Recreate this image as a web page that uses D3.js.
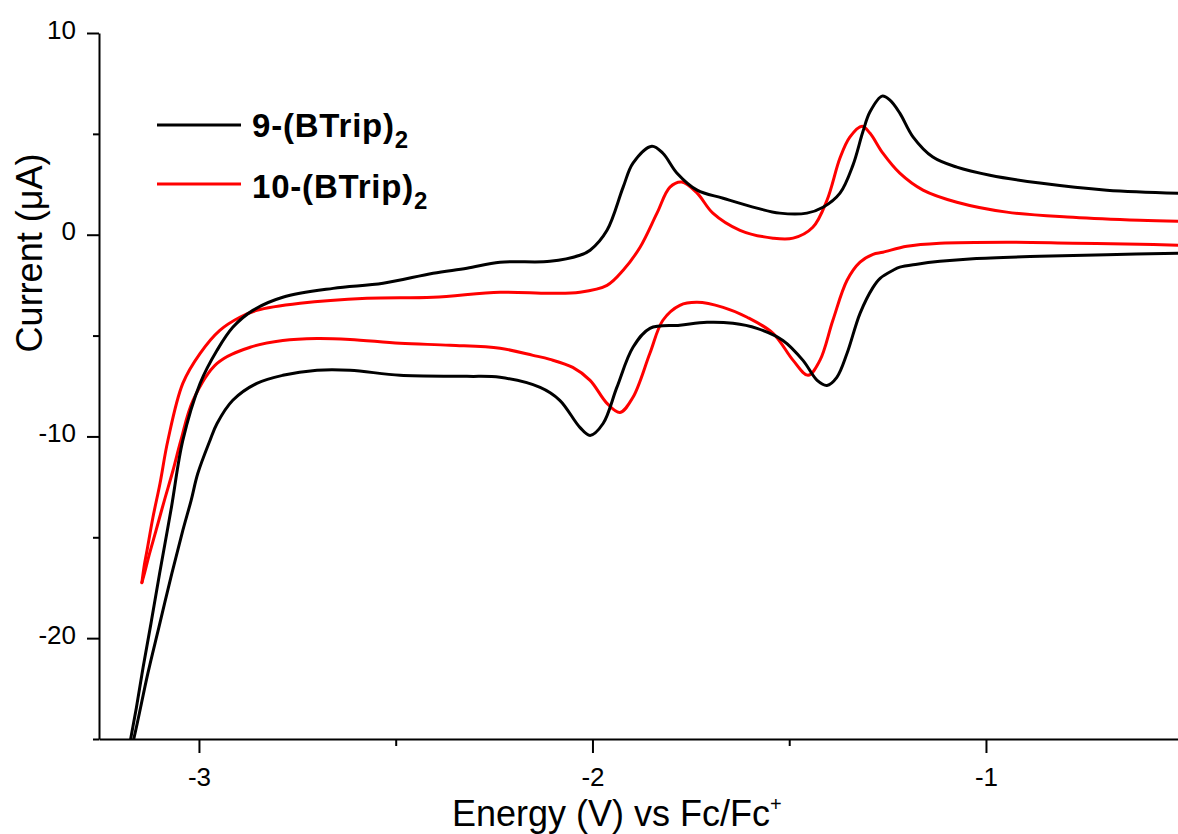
<!DOCTYPE html>
<html>
<head>
<meta charset="utf-8">
<script src="https://cdn.jsdelivr.net/npm/d3@7"></script>
<style>
  body { margin: 0; background: #fff; }
  svg { display: block; }
  text { font-family: "Liberation Sans", Arial, Helvetica, sans-serif; fill: #000; }
</style>
</head>
<body>
<svg id="chart" width="1178" height="834"></svg>
<script>
// Cyclic voltammograms: potential (V vs Fc/Fc+) and current (µA).
// Each scan is stored as the cathodic sweep (toward negative potential)
// and the anodic return sweep; both meet at the switching potential.

const seriesLabels = ["9-(BTrip)", "10-(BTrip)"];
const seriesColors = ["#000000", "#ff0000"];

const blackCathodic = [
  [-0.512, -0.92], [-0.693, -0.99], [-0.863, -1.07], [-1.033, -1.19], [-1.117, -1.32],
  [-1.175, -1.46], [-1.219, -1.61], [-1.236, -1.76], [-1.269, -2.16], [-1.287, -2.61],
  [-1.320, -3.90], [-1.353, -5.88], [-1.379, -7.07], [-1.404, -7.47], [-1.429, -7.22],
  [-1.465, -6.23], [-1.516, -5.24], [-1.582, -4.64], [-1.643, -4.39], [-1.709, -4.34],
  [-1.778, -4.49], [-1.854, -4.64], [-1.897, -5.58], [-1.938, -7.57], [-1.973, -9.36],
  [-2.006, -9.95], [-2.032, -9.55], [-2.083, -8.21], [-2.133, -7.57], [-2.235, -7.07],
  [-2.319, -7.02], [-2.489, -6.97], [-2.616, -6.72], [-2.700, -6.72], [-2.787, -6.97],
  [-2.853, -7.37], [-2.914, -8.21], [-2.954, -9.36], [-2.972, -10.20], [-3.003, -11.84],
  [-3.020, -13.18], [-3.041, -14.66], [-3.069, -16.80], [-3.102, -19.48], [-3.130, -21.76],
  [-3.165, -24.94], [-3.187, -26.60]
];

const blackAnodic = [
  [-3.187, -26.60], [-3.173, -24.94], [-3.159, -23.45], [-3.142, -21.46], [-3.122, -19.28],
  [-3.100, -16.80], [-3.070, -13.52], [-3.041, -10.20], [-2.997, -7.37], [-2.954, -5.73],
  [-2.914, -4.59], [-2.863, -3.75], [-2.787, -3.10], [-2.659, -2.66], [-2.532, -2.41],
  [-2.405, -1.91], [-2.319, -1.66], [-2.235, -1.36], [-2.108, -1.32], [-2.032, -1.02],
  [-2.006, -0.77], [-1.963, 0.22], [-1.922, 2.36], [-1.897, 3.55], [-1.849, 4.39],
  [-1.821, 4.04], [-1.785, 3.05], [-1.734, 2.21], [-1.668, 1.81], [-1.582, 1.32],
  [-1.524, 1.07], [-1.455, 1.07], [-1.414, 1.36], [-1.371, 2.06], [-1.338, 3.45],
  [-1.313, 5.09], [-1.295, 6.08], [-1.264, 6.87], [-1.244, 6.67], [-1.219, 6.03],
  [-1.185, 4.84], [-1.135, 3.85], [-1.074, 3.35], [-0.990, 2.95], [-0.863, 2.56],
  [-0.693, 2.21], [-0.512, 2.06]
];

const redCathodic = [
  [-0.512, -0.52], [-0.609, -0.47], [-0.779, -0.42], [-0.947, -0.37], [-1.117, -0.42],
  [-1.201, -0.57], [-1.262, -0.87], [-1.287, -0.97], [-1.320, -1.36], [-1.353, -2.26],
  [-1.389, -4.24], [-1.422, -6.23], [-1.452, -6.97], [-1.490, -6.23], [-1.541, -4.89],
  [-1.607, -4.09], [-1.668, -3.60], [-1.734, -3.35], [-1.778, -3.50], [-1.821, -4.24],
  [-1.854, -5.88], [-1.897, -8.06], [-1.930, -8.81], [-1.963, -8.36], [-2.006, -7.22],
  [-2.050, -6.58], [-2.108, -6.18], [-2.151, -5.98], [-2.235, -5.63], [-2.362, -5.48],
  [-2.489, -5.38], [-2.616, -5.19], [-2.700, -5.14], [-2.787, -5.24], [-2.870, -5.58],
  [-2.954, -6.38], [-3.015, -8.21], [-3.046, -10.20], [-3.066, -11.69], [-3.088, -13.18],
  [-3.109, -14.66], [-3.127, -15.91], [-3.138, -16.75], [-3.145, -17.25]
];

const redAnodic = [
  [-3.145, -17.25], [-3.139, -16.40], [-3.132, -15.66], [-3.117, -14.02], [-3.099, -12.33],
  [-3.079, -10.20], [-3.041, -7.37], [-2.997, -5.88], [-2.947, -4.74], [-2.896, -4.09],
  [-2.853, -3.75], [-2.743, -3.40], [-2.573, -3.15], [-2.405, -3.10], [-2.235, -2.85],
  [-2.108, -2.90], [-2.032, -2.85], [-1.963, -2.51], [-1.922, -1.76], [-1.879, -0.62],
  [-1.836, 1.07], [-1.803, 2.36], [-1.773, 2.61], [-1.734, 2.06], [-1.694, 1.07],
  [-1.625, 0.22], [-1.541, -0.17], [-1.490, -0.17], [-1.440, 0.37], [-1.404, 1.71],
  [-1.371, 3.80], [-1.346, 4.84], [-1.315, 5.38], [-1.295, 5.04], [-1.262, 4.04],
  [-1.219, 3.05], [-1.160, 2.21], [-1.074, 1.61], [-0.947, 1.12], [-0.779, 0.87],
  [-0.609, 0.72], [-0.512, 0.67]
];

const xMajorTicks = [-3, -2, -1];
const xMinorTicks = [-2.5, -1.5];
const yMajorTicks = [10, 0, -10, -20];
const yMinorTicks = [5, -5, -15, -25];

const xTitle = "Energy (V) vs Fc/Fc";
const yTitle = "Current (\u03BCA)";

// ---- layout ----
const svg = d3.select("#chart");
const plot = { left: 99, right: 1178, top: 33, bottom: 739 };

const x = d3.scaleLinear().domain([-3.254, -0.512]).range([plot.left, plot.right]);
const y = d3.scaleLinear().domain([-25, 10]).range([plot.bottom, plot.top]);

svg.append("defs").append("clipPath").attr("id", "plot-clip")
  .append("rect")
  .attr("x", plot.left).attr("y", plot.top)
  .attr("width", plot.right - plot.left).attr("height", plot.bottom - plot.top);

// ---- curves ----
const line = d3.line()
  .x(d => x(d[0]))
  .y(d => y(d[1]))
  .curve(d3.curveCatmullRom.alpha(0.5));

const scans = [
  [blackCathodic, blackAnodic],
  [redCathodic, redAnodic]
];

const curves = svg.append("g").attr("clip-path", "url(#plot-clip)");
// red scan first, black drawn on top where they overlap
[1, 0].forEach(i => {
  scans[i].forEach(branch => {
    curves.append("path")
      .datum(branch)
      .attr("d", line)
      .attr("fill", "none")
      .attr("stroke", seriesColors[i])
      .attr("stroke-width", 3)
      .attr("stroke-linejoin", "round")
      .attr("stroke-linecap", "round");
  });
});

// ---- axes ----
const fmt = d => String(d);

const xAxisG = svg.append("g").attr("transform", `translate(0,${plot.bottom})`);
xAxisG.call(d3.axisBottom(x).tickValues(xMajorTicks).tickFormat(fmt)
  .tickSize(14).tickPadding(15).tickSizeOuter(0));
xAxisG.append("g").call(d3.axisBottom(x).tickValues(xMinorTicks).tickFormat("")
  .tickSize(7).tickSizeOuter(0))
  .select(".domain").remove();

const yAxisG = svg.append("g").attr("transform", `translate(${plot.left},0)`);
yAxisG.call(d3.axisLeft(y).tickValues(yMajorTicks).tickFormat(fmt)
  .tickSize(12).tickPadding(11).tickSizeOuter(0));
yAxisG.append("g").call(d3.axisLeft(y).tickValues(yMinorTicks).tickFormat("")
  .tickSize(6).tickSizeOuter(0))
  .select(".domain").remove();

svg.selectAll(".domain").attr("stroke", "#000").attr("stroke-width", 2);
svg.selectAll(".tick line").attr("stroke", "#000").attr("stroke-width", 2);
svg.selectAll(".tick text")
  .attr("font-size", 26)
  .attr("font-family", "\"Liberation Sans\", Arial, sans-serif")
  .attr("fill", "#000");
yAxisG.selectAll(".tick text").attr("dy", "0.2em");

// ---- axis titles ----
const xt = svg.append("text")
  .attr("x", 452).attr("y", 826)
  .attr("font-size", 36);
xt.append("tspan").text(xTitle);
xt.append("tspan").attr("font-size", 20).attr("dy", -15).text("+");

svg.append("text")
  .attr("transform", "translate(42,253) rotate(-90)")
  .attr("text-anchor", "middle")
  .attr("font-size", 36)
  .text(yTitle);

// ---- legend ----
const legendRows = [
  { lineY: 125, textY: 137 },
  { lineY: 184, textY: 198 }
];
seriesLabels.forEach((lab, i) => {
  const r = legendRows[i];
  svg.append("line")
    .attr("x1", 157).attr("x2", 241)
    .attr("y1", r.lineY).attr("y2", r.lineY)
    .attr("stroke", seriesColors[i]).attr("stroke-width", 3);
  const t = svg.append("text")
    .attr("x", 252).attr("y", r.textY)
    .attr("font-size", 33).attr("font-weight", "bold")
    .attr("letter-spacing", 0.8);
  t.append("tspan").text(lab);
  t.append("tspan").attr("font-size", 24).attr("dy", 11).text("2");
});
</script>
</body>
</html>
